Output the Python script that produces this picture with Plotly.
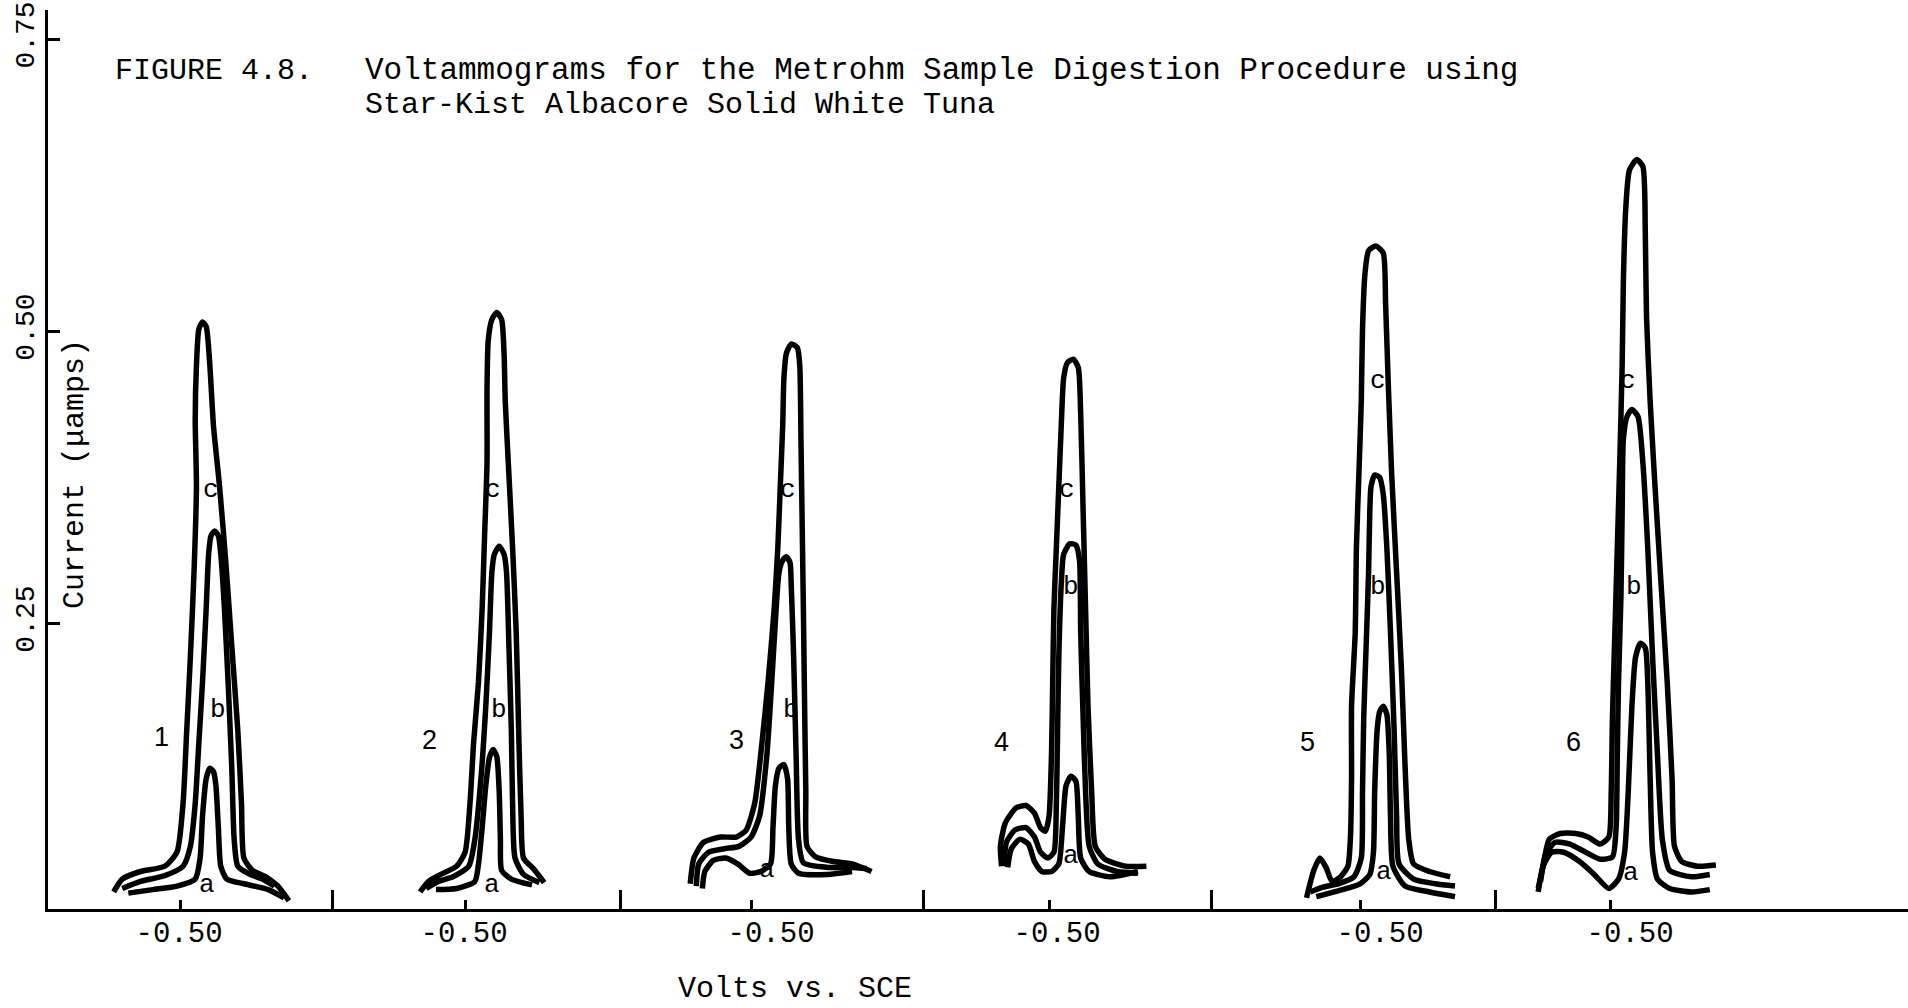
import plotly.graph_objects as go

# ---------------- data ----------------
# position of each voltammogram's -0.50 V mark along the chart (combined scan axis, V of travel)
panel_zero = [0.1090, 0.3428, 0.5778, 0.8227, 1.0783, 1.2837]
separators = [0.2334, 0.4701, 0.7191, 0.9558, 1.1900]
label_pos = [0.1077, 0.3419, 0.5942, 0.8293, 1.0947, 1.3002]
tick_text = ["-0.50", "-0.50", "-0.50", "-0.50", "-0.50", "-0.50"]
y_ticks = [0.25, 0.50, 0.75]
y_tick_text = ["0.25", "0.50", "0.75"]

# Panel 1
E1c = [-0.445, -0.452, -0.467, -0.487, -0.497, -0.502, -0.505, -0.508, -0.511, -0.513, -0.512, -0.513, -0.515,
       -0.518, -0.521, -0.524, -0.527, -0.532, -0.537, -0.542, -0.547, -0.550, -0.552, -0.559, -0.570, -0.580, -0.589]
I1c = [0.020, 0.031, 0.0375, 0.042, 0.054, 0.096, 0.158, 0.221, 0.294, 0.367, 0.424, 0.471, 0.502,
       0.508, 0.504, 0.471, 0.419, 0.367, 0.304, 0.231, 0.158, 0.096, 0.049, 0.0385, 0.033, 0.025, 0.0125]
E1b = [-0.452, -0.467, -0.487, -0.502, -0.508, -0.512, -0.515, -0.518, -0.521, -0.523, -0.525, -0.528, -0.531,
       -0.533, -0.536, -0.539, -0.542, -0.544, -0.547, -0.557, -0.567, -0.577]
I1b = [0.023, 0.029, 0.034, 0.042, 0.059, 0.096, 0.148, 0.200, 0.2625, 0.309, 0.325, 0.329, 0.325,
       0.309, 0.2625, 0.200, 0.127, 0.065, 0.042, 0.035, 0.031, 0.025]
E1a = [-0.457, -0.477, -0.497, -0.512, -0.516, -0.518, -0.521, -0.524, -0.527, -0.529, -0.531, -0.533, -0.538,
       -0.552, -0.572, -0.585]
I1a = [0.019, 0.022, 0.025, 0.031, 0.049, 0.085, 0.117, 0.126, 0.123, 0.111, 0.075, 0.042, 0.031,
       0.027, 0.022, 0.015]

# Panel 2
E2c = [-0.463, -0.470, -0.480, -0.493, -0.500, -0.504, -0.507, -0.511, -0.514, -0.516, -0.518, -0.518, -0.519,
       -0.522, -0.526, -0.530, -0.532, -0.533, -0.536, -0.539, -0.542, -0.544, -0.546, -0.548, -0.556, -0.565]
I2c = [0.020, 0.029, 0.035, 0.042, 0.054, 0.096, 0.148, 0.200, 0.2625, 0.325, 0.3875, 0.450, 0.492,
       0.510, 0.516, 0.510, 0.481, 0.440, 0.377, 0.315, 0.242, 0.158, 0.085, 0.049, 0.040, 0.028]
E2b = [-0.468, -0.478, -0.490, -0.503, -0.508, -0.513, -0.517, -0.520, -0.522, -0.524, -0.528, -0.532, -0.534,
       -0.536, -0.538, -0.539, -0.541, -0.548, -0.561]
I2b = [0.023, 0.029, 0.033, 0.042, 0.065, 0.117, 0.179, 0.242, 0.294, 0.309, 0.316, 0.309, 0.294,
       0.231, 0.158, 0.096, 0.049, 0.035, 0.028]
E2a = [-0.476, -0.493, -0.508, -0.511, -0.514, -0.517, -0.520, -0.523, -0.526, -0.528, -0.529, -0.530, -0.538,
       -0.555]
I2a = [0.022, 0.023, 0.029, 0.044, 0.075, 0.111, 0.135, 0.142, 0.136, 0.106, 0.065, 0.0385, 0.031,
       0.026]

# Panel 3
E3c = [-0.450, -0.453, -0.461, -0.475, -0.488, -0.496, -0.503, -0.509, -0.514, -0.519, -0.522, -0.524, -0.526,
       -0.527, -0.529, -0.533, -0.538, -0.540, -0.541, -0.542, -0.543, -0.544, -0.545, -0.546, -0.553, -0.568,
       -0.583, -0.599]
I3c = [0.027, 0.049, 0.0625, 0.067, 0.067, 0.073, 0.096, 0.148, 0.200, 0.2625, 0.315, 0.367, 0.419,
       0.460, 0.481, 0.489, 0.486, 0.471, 0.408, 0.335, 0.2625, 0.179, 0.106, 0.059, 0.050, 0.046,
       0.044, 0.0375]
E3b = [-0.455, -0.457, -0.465, -0.478, -0.490, -0.500, -0.507, -0.513, -0.517, -0.520, -0.523, -0.526, -0.529,
       -0.532, -0.533, -0.535, -0.537, -0.539, -0.543, -0.563, -0.583, -0.595]
I3b = [0.025, 0.044, 0.054, 0.057, 0.059, 0.067, 0.085, 0.1375, 0.200, 0.252, 0.294, 0.304, 0.307,
       0.302, 0.283, 0.221, 0.1375, 0.065, 0.045, 0.041, 0.041, 0.040]
E3a = [-0.460, -0.462, -0.469, -0.479, -0.489, -0.499, -0.508, -0.516, -0.518, -0.520, -0.523, -0.527, -0.530,
       -0.531, -0.533, -0.539, -0.563, -0.583]
I3a = [0.023, 0.0375, 0.047, 0.049, 0.044, 0.036, 0.0375, 0.044, 0.075, 0.111, 0.126, 0.129, 0.117,
       0.075, 0.044, 0.036, 0.035, 0.0375]

# Panel 4
E4c = [-0.461, -0.460, -0.464, -0.473, -0.481, -0.488, -0.493, -0.497, -0.500, -0.502, -0.503, -0.504, -0.506,
       -0.508, -0.510, -0.512, -0.515, -0.520, -0.524, -0.526, -0.528, -0.530, -0.532, -0.535, -0.538, -0.546,
       -0.563, -0.580]
I4c = [0.042, 0.059, 0.079, 0.092, 0.094, 0.0875, 0.075, 0.072, 0.085, 0.1375, 0.200, 0.2625, 0.315,
       0.367, 0.419, 0.460, 0.473, 0.476, 0.469, 0.429, 0.346, 0.2625, 0.179, 0.106, 0.059, 0.048,
       0.042, 0.042]
E4b = [-0.463, -0.465, -0.472, -0.481, -0.488, -0.493, -0.499, -0.504, -0.506, -0.507, -0.508, -0.510, -0.512,
       -0.517, -0.522, -0.525, -0.526, -0.528, -0.530, -0.533, -0.540, -0.556, -0.573]
I4b = [0.042, 0.0625, 0.073, 0.075, 0.067, 0.054, 0.049, 0.054, 0.096, 0.158, 0.221, 0.283, 0.309,
       0.318, 0.317, 0.304, 0.242, 0.169, 0.106, 0.059, 0.044, 0.0375, 0.036]
E4a = [-0.466, -0.469, -0.476, -0.483, -0.488, -0.494, -0.502, -0.508, -0.511, -0.514, -0.518, -0.522, -0.524,
       -0.526, -0.533, -0.550, -0.573]
I4a = [0.041, 0.057, 0.065, 0.061, 0.046, 0.0375, 0.0375, 0.044, 0.075, 0.111, 0.119, 0.115, 0.085,
       0.049, 0.0375, 0.033, 0.0375]

# Panel 5
E5c = [-0.456, -0.462, -0.467, -0.472, -0.477, -0.484, -0.490, -0.492, -0.493, -0.493, -0.496, -0.497, -0.499,
       -0.501, -0.502, -0.504, -0.507, -0.513, -0.519, -0.521, -0.523, -0.526, -0.530, -0.534, -0.537, -0.540,
       -0.544, -0.557, -0.574]
I5c = [0.015, 0.0385, 0.049, 0.041, 0.029, 0.033, 0.042, 0.065, 0.117, 0.179, 0.242, 0.315, 0.377,
       0.440, 0.502, 0.549, 0.569, 0.573, 0.567, 0.523, 0.460, 0.377, 0.294, 0.210, 0.127, 0.065,
       0.044, 0.0375, 0.033]
E5b = [-0.459, -0.469, -0.482, -0.495, -0.501, -0.502, -0.503, -0.505, -0.507, -0.508, -0.509, -0.512, -0.516,
       -0.519, -0.522, -0.525, -0.528, -0.530, -0.532, -0.544, -0.562, -0.578]
I5b = [0.020, 0.024, 0.027, 0.033, 0.049, 0.106, 0.169, 0.231, 0.294, 0.346, 0.367, 0.377, 0.375,
       0.361, 0.315, 0.242, 0.158, 0.085, 0.044, 0.031, 0.027, 0.025]
E5a = [-0.464, -0.482, -0.500, -0.508, -0.511, -0.512, -0.514, -0.516, -0.519, -0.522, -0.524, -0.525, -0.527,
       -0.537, -0.557, -0.578]
I5a = [0.016, 0.021, 0.027, 0.035, 0.054, 0.106, 0.158, 0.174, 0.179, 0.172, 0.1375, 0.085, 0.042,
       0.025, 0.020, 0.016]

# Panel 6
E6c = [-0.441, -0.445, -0.450, -0.459, -0.472, -0.482, -0.492, -0.499, -0.501, -0.502, -0.504, -0.506, -0.508,
       -0.510, -0.511, -0.513, -0.516, -0.522, -0.527, -0.529, -0.530, -0.533, -0.537, -0.542, -0.547, -0.551,
       -0.553, -0.559, -0.572, -0.587]
I6c = [0.023, 0.042, 0.065, 0.070, 0.070, 0.067, 0.061, 0.067, 0.106, 0.169, 0.242, 0.315, 0.3875,
       0.471, 0.544, 0.606, 0.638, 0.647, 0.641, 0.585, 0.5125, 0.440, 0.367, 0.283, 0.200, 0.117,
       0.059, 0.046, 0.042, 0.043]
E6b = [-0.443, -0.447, -0.455, -0.467, -0.480, -0.492, -0.502, -0.505, -0.506, -0.507, -0.509, -0.510, -0.511,
       -0.514, -0.518, -0.523, -0.527, -0.531, -0.535, -0.539, -0.543, -0.549, -0.567, -0.582]
I6b = [0.029, 0.052, 0.0625, 0.061, 0.054, 0.048, 0.050, 0.075, 0.1375, 0.200, 0.273, 0.346, 0.408,
       0.427, 0.433, 0.427, 0.3875, 0.315, 0.221, 0.1375, 0.065, 0.0385, 0.033, 0.035]
E6a = [-0.441, -0.445, -0.452, -0.462, -0.475, -0.487, -0.499, -0.507, -0.512, -0.515, -0.518, -0.521, -0.525,
       -0.529, -0.531, -0.533, -0.535, -0.539, -0.549, -0.567, -0.582]
I6a = [0.020, 0.042, 0.054, 0.054, 0.046, 0.035, 0.023, 0.031, 0.054, 0.106, 0.179, 0.221, 0.233,
       0.229, 0.200, 0.117, 0.054, 0.031, 0.023, 0.020, 0.022]

# curve letters (potential within panel, current)
letter_E = {"a": [-0.522, -0.522, -0.513, -0.518, -0.520, -0.517],
            "b": [-0.531, -0.528, -0.533, -0.518, -0.515, -0.520],
            "c": [-0.525, -0.523, -0.530, -0.515, -0.515, -0.515]}
letter_I = {"a": [0.026, 0.026, 0.0385, 0.051, 0.0375, 0.036],
            "b": [0.176, 0.176, 0.176, 0.281, 0.281, 0.281],
            "c": [0.364, 0.364, 0.364, 0.364, 0.457, 0.457]}
number_E = [-0.484, -0.471, -0.488, -0.461, -0.457, -0.470]
number_I = [0.153, 0.150, 0.150, 0.148, 0.148, 0.148]

curves = [
    (0, E1a, I1a), (0, E1b, I1b), (0, E1c, I1c),
    (1, E2a, I2a), (1, E2b, I2b), (1, E2c, I2c),
    (2, E3a, I3a), (2, E3b, I3b), (2, E3c, I3c),
    (3, E4a, I4a), (3, E4b, I4b), (3, E4c, I4c),
    (4, E5a, I5a), (4, E5b, I5b), (4, E5c, I5c),
    (5, E6a, I6a), (5, E6b, I6b), (5, E6c, I6c),
]

X_RANGE = [0, 1.5286]
Y_RANGE = [0.0054, 0.775]
MONO = "Liberation Mono"


def to_axis(p, E):
    return panel_zero[p] + (-0.50 - E)


fig = go.Figure()
for p, E, I in curves:
    fig.add_trace(go.Scatter(
        x=[to_axis(p, e) for e in E], y=I, mode="lines",
        line=dict(color="black", width=5.5, shape="spline", smoothing=0.6),
        showlegend=False, hoverinfo="skip"))

annotations = []
for letter in ["a", "b", "c"]:
    for p in range(6):
        annotations.append(dict(
            x=to_axis(p, letter_E[letter][p]), y=letter_I[letter][p], xref="x", yref="y",
            text=letter, showarrow=False, font=dict(family=MONO, size=26, color="black")))
for p in range(6):
    annotations.append(dict(
        x=to_axis(p, number_E[p]), y=number_I[p], xref="x", yref="y",
        text=str(p + 1), showarrow=False, font=dict(family="Liberation Sans", size=27, color="black")))

# titles
TITLE_SIZE = 30
annotations += [
    dict(x=0.0349, y=0.9327, xref="paper", yref="paper", xanchor="left", yanchor="middle",
         text="FIGURE 4.8.", showarrow=False, font=dict(family=MONO, size=TITLE_SIZE, color="black")),
    dict(x=0.1694, y=0.9327, xref="paper", yref="paper", xanchor="left", yanchor="middle",
         text="Voltammograms for the Metrohm Sample Digestion Procedure using", showarrow=False,
         font=dict(family=MONO, size=31, color="black")),
    dict(x=0.1694, y=0.8944, xref="paper", yref="paper", xanchor="left", yanchor="middle",
         text="Star-Kist Albacore Solid White Tuna", showarrow=False,
         font=dict(family=MONO, size=TITLE_SIZE, color="black")),
    dict(x=0.0145, y=0.4839, xref="paper", yref="paper", xanchor="center", yanchor="middle",
         text="Current (μamps)", textangle=-90, showarrow=False,
         font=dict(family=MONO, size=30, color="black")),
    dict(x=0.4016, y=-0.089, xref="paper", yref="paper", xanchor="center", yanchor="middle",
         text="Volts vs. SCE", showarrow=False, font=dict(family=MONO, size=30, color="black")),
]

fig.update_layout(
    width=1908, height=1008,
    margin=dict(l=48, r=0, t=10, b=99),
    paper_bgcolor="white", plot_bgcolor="white",
    showlegend=False,
    annotations=annotations,
    xaxis=dict(range=X_RANGE, showgrid=False, zeroline=False, showline=True, linecolor="black",
               linewidth=3, tickmode="array", tickvals=label_pos, ticktext=tick_text, ticks="",
               ticklabelstandoff=-5,
               tickfont=dict(family=MONO, size=29, color="black")),
    xaxis2=dict(range=X_RANGE, overlaying="x", anchor="y", side="bottom", showgrid=False,
                zeroline=False, showline=False, tickmode="array", tickvals=panel_zero,
                ticks="inside", ticklen=9, tickwidth=2.5, tickcolor="black", showticklabels=False),
    xaxis3=dict(range=X_RANGE, overlaying="x", anchor="y", side="bottom", showgrid=False,
                zeroline=False, showline=False, tickmode="array", tickvals=separators,
                ticks="inside", ticklen=19, tickwidth=2.5, tickcolor="black", showticklabels=False),
    yaxis=dict(range=Y_RANGE, showgrid=False, zeroline=False, showline=True, linecolor="black",
               linewidth=3, tickmode="array", tickvals=y_ticks, ticktext=y_tick_text,
               ticks="inside", ticklen=12, tickwidth=2.5, tickcolor="black", tickangle=-90,
               tickfont=dict(family=MONO, size=28, color="black")),
)

# invisible traces so the overlay axes are drawn
fig.add_trace(go.Scatter(x=[X_RANGE[0]], y=[Y_RANGE[0]], xaxis="x2", mode="markers",
                         marker=dict(opacity=0), showlegend=False, hoverinfo="skip"))
fig.add_trace(go.Scatter(x=[X_RANGE[0]], y=[Y_RANGE[0]], xaxis="x3", mode="markers",
                         marker=dict(opacity=0), showlegend=False, hoverinfo="skip"))

fig.write_html("out.html")
